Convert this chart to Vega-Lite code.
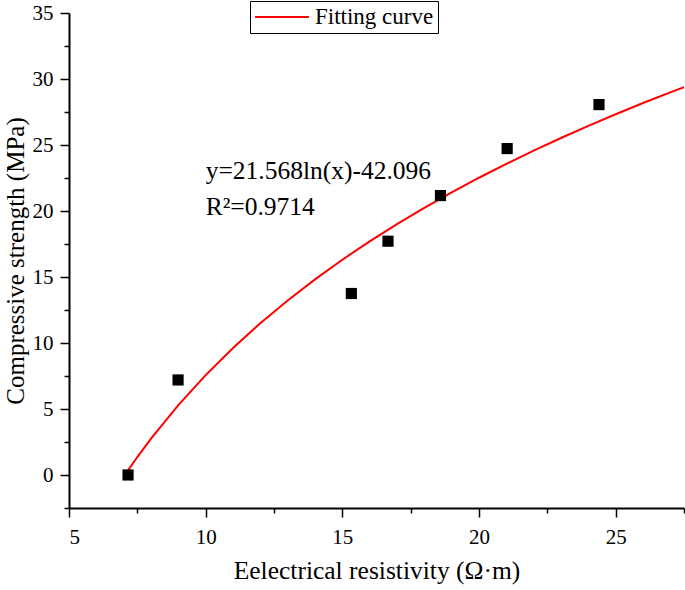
{
  "$schema": "https://vega.github.io/schema/vega-lite/v6.json",
  "autosize": {"type": "none"},
  "width": 615,
  "height": 495,
  "padding": {"left": 69, "top": 13, "right": 1, "bottom": 82},
  "background": "white",
  "config": {
    "view": {"stroke": null},
    "font": "Liberation Serif",
    "axis": {
      "grid": false,
      "domainColor": "#000",
      "domainWidth": 2,
      "tickColor": "#000",
      "tickWidth": 1.5,
      "labelColor": "#000",
      "titleColor": "#000",
      "labelFont": "Liberation Serif",
      "titleFont": "Liberation Serif",
      "labelFontSize": 21,
      "titleFontSize": 25.5,
      "titleFontWeight": "normal"
    }
  },
  "resolve": {"axis": {"x": "independent", "y": "independent"}},
  "datasets": {
    "points": [
      {"x": 7.16, "y": 0.0},
      {"x": 8.99, "y": 7.2},
      {"x": 15.33, "y": 13.75},
      {"x": 16.67, "y": 17.71},
      {"x": 18.59, "y": 21.17},
      {"x": 21.03, "y": 24.73},
      {"x": 24.39, "y": 28.06}
    ],
    "curve": [
      {"x": 7.05, "y": 0.03, "s": "Fitting curve"},
      {"x": 7.5, "y": 1.36, "s": "Fitting curve"},
      {"x": 8, "y": 2.75, "s": "Fitting curve"},
      {"x": 9, "y": 5.29, "s": "Fitting curve"},
      {"x": 10, "y": 7.57, "s": "Fitting curve"},
      {"x": 11, "y": 9.62, "s": "Fitting curve"},
      {"x": 12, "y": 11.50, "s": "Fitting curve"},
      {"x": 13, "y": 13.22, "s": "Fitting curve"},
      {"x": 14, "y": 14.82, "s": "Fitting curve"},
      {"x": 15, "y": 16.31, "s": "Fitting curve"},
      {"x": 16, "y": 17.70, "s": "Fitting curve"},
      {"x": 17, "y": 19.01, "s": "Fitting curve"},
      {"x": 18, "y": 20.24, "s": "Fitting curve"},
      {"x": 19, "y": 21.41, "s": "Fitting curve"},
      {"x": 20, "y": 22.52, "s": "Fitting curve"},
      {"x": 21, "y": 23.57, "s": "Fitting curve"},
      {"x": 22, "y": 24.57, "s": "Fitting curve"},
      {"x": 23, "y": 25.53, "s": "Fitting curve"},
      {"x": 24, "y": 26.45, "s": "Fitting curve"},
      {"x": 25, "y": 27.33, "s": "Fitting curve"},
      {"x": 26, "y": 28.18, "s": "Fitting curve"},
      {"x": 27, "y": 28.99, "s": "Fitting curve"},
      {"x": 27.5, "y": 29.38, "s": "Fitting curve"}
    ],
    "notes": [
      {"x": 10, "y": 22.39, "t": "y=21.568ln(x)-42.096"},
      {"x": 10, "y": 19.73, "t": "R²=0.9714"}
    ]
  },
  "layer": [
    {
      "data": {"name": "curve"},
      "mark": {"type": "line", "strokeWidth": 2, "clip": true},
      "encoding": {
        "x": {
          "field": "x", "type": "quantitative",
          "scale": {"domain": [5, 27.5], "nice": false, "zero": false},
          "axis": {"orient": "bottom", "values": [7.5, 12.5, 17.5, 22.5, 27.5], "labels": false, "tickSize": 5, "title": null, "domain": true}
        },
        "y": {
          "field": "y", "type": "quantitative",
          "scale": {"domain": [-2.5, 35], "nice": false, "zero": false},
          "axis": {"orient": "left", "values": [-2.5, 2.5, 7.5, 12.5, 17.5, 22.5, 27.5, 32.5], "labels": false, "tickSize": 5, "title": null, "domain": true}
        },
        "color": {
          "field": "s", "type": "nominal",
          "scale": {"range": ["#ff0000"]},
          "legend": {
            "title": null,
            "orient": "none",
            "legendX": 181,
            "legendY": -12,
            "symbolType": "stroke",
            "symbolSize": 2900,
            "symbolStrokeWidth": 2,
            "clipHeight": 24,
            "labelFontSize": 23,
            "labelFont": "Liberation Serif",
            "labelColor": "#000",
            "strokeColor": "#000",
            "padding": 4,
            "labelOffset": 5
          }
        }
      }
    },
    {
      "data": {"name": "points"},
      "mark": {"type": "square", "filled": true, "color": "#000", "size": 125, "opacity": 1},
      "encoding": {
        "x": {
          "field": "x", "type": "quantitative",
          "axis": {"orient": "bottom", "values": [5, 10, 15, 20, 25], "tickSize": 9, "labelPadding": 9, "title": "Eelectrical resistivity (Ω·m)", "titlePadding": 11, "domain": false}
        },
        "y": {
          "field": "y", "type": "quantitative",
          "axis": {"orient": "left", "values": [0, 5, 10, 15, 20, 25, 30, 35], "tickSize": 9, "labelPadding": 7, "title": "Compressive strength (MPa)", "titlePadding": 4, "titleFontSize": 25, "domain": false}
        }
      }
    },
    {
      "data": {"name": "notes"},
      "mark": {"type": "text", "align": "left", "baseline": "alphabetic", "fontSize": 25.5, "font": "Liberation Serif", "color": "#000"},
      "encoding": {
        "x": {"field": "x", "type": "quantitative", "axis": null},
        "y": {"field": "y", "type": "quantitative", "axis": null},
        "text": {"field": "t"}
      }
    }
  ]
}
